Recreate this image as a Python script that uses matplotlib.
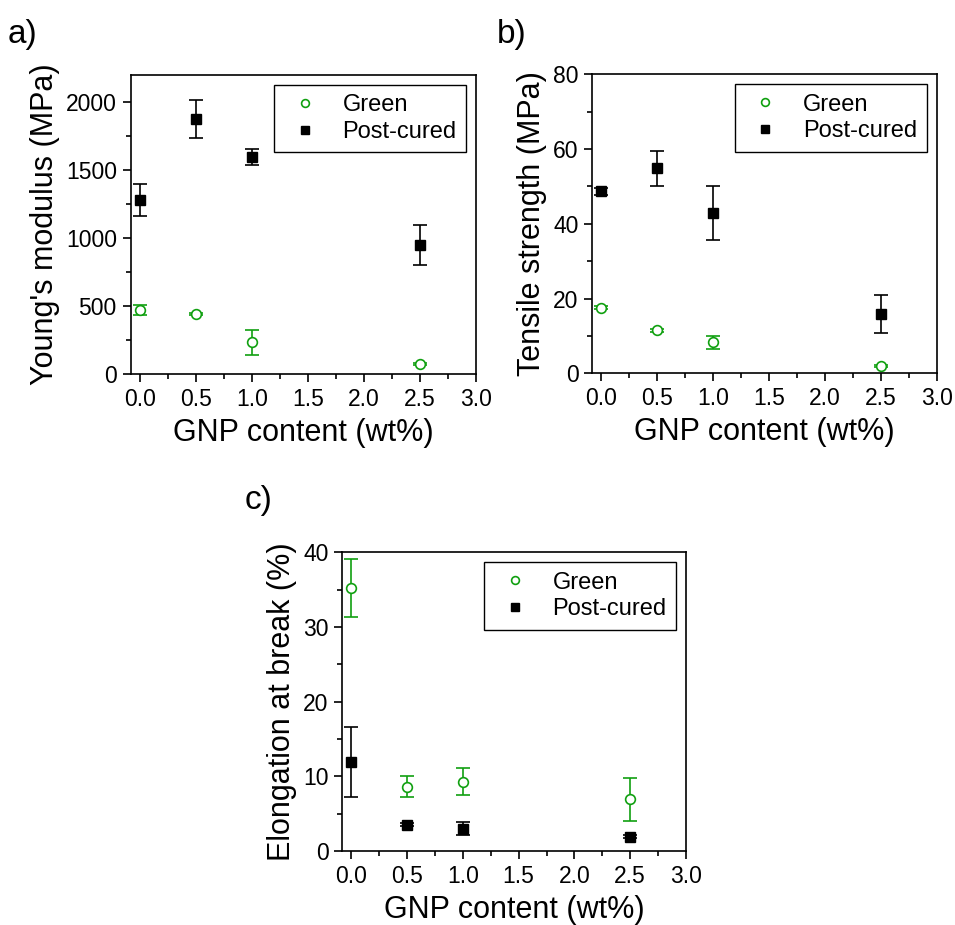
import matplotlib
matplotlib.use("Agg")
import matplotlib.pyplot as plt
from matplotlib.ticker import MultipleLocator

plt.rcParams['font.family'] = ['Liberation Sans', 'DejaVu Sans']

gnp = [0.0, 0.5, 1.0, 2.5]

# a) Young's modulus (MPa)
mod_green = [470, 442, 235, 75]
mod_green_err = [38, 10, 92, 8]
mod_post = [1280, 1875, 1597, 950]
mod_post_err = [118, 140, 60, 150]

# b) Tensile strength (MPa)
ts_green = [17.6, 11.5, 8.3, 2.0]
ts_green_err = [0.5, 0.4, 1.7, 0.3]
ts_post = [48.7, 54.8, 42.9, 15.9]
ts_post_err = [1.0, 4.8, 7.2, 5.1]

# c) Elongation at break (%)
el_green = [35.2, 8.6, 9.3, 6.9]
el_green_err = [3.9, 1.4, 1.8, 2.9]
el_post = [11.9, 3.5, 3.0, 1.9]
el_post_err = [4.7, 0.2, 0.9, 0.2]

xticks = [0.0, 0.5, 1.0, 1.5, 2.0, 2.5, 3.0]
green = '#10a010'

W, H = 955, 925
fig = plt.figure(figsize=(W / 100, H / 100), dpi=100)


def make_ax(left, right, top, bottom):
    return fig.add_axes([left / W, 1 - bottom / H, (right - left) / W, (bottom - top) / H])


def draw(ax, yg, yge, yp, ype, ylim, major, ylabel):
    ax.errorbar(gnp, yg, yerr=yge, fmt='o', mfc='white', mec=green, ecolor=green,
                ms=7, mew=1.2, elinewidth=1.2, capsize=5, capthick=1.2, label='Green')
    ax.errorbar(gnp, yp, yerr=ype, fmt='s', mfc='black', mec='black', ecolor='black',
                ms=7, elinewidth=1.2, capsize=5, capthick=1.2, label='Post-cured')
    ax.set_xlim(-0.08, 3.0)
    ax.set_ylim(*ylim)
    ax.set_xticks(xticks)
    ax.set_xticklabels([f'{v:.1f}' for v in xticks])
    ax.xaxis.set_minor_locator(MultipleLocator(0.25))
    ax.yaxis.set_major_locator(MultipleLocator(major))
    ax.yaxis.set_minor_locator(MultipleLocator(major / 2))
    ax.tick_params(which='both', direction='out', labelsize=16.5, width=1.2)
    ax.tick_params(which='major', length=6, pad=4)
    ax.tick_params(which='minor', length=3.5)
    for s in ax.spines.values():
        s.set_linewidth(1.2)
    ax.set_xlabel('GNP content (wt%)', fontsize=22, labelpad=5)
    ax.set_ylabel(ylabel, fontsize=22, labelpad=4)
    h, l = ax.get_legend_handles_labels()
    h = [hh[0] for hh in h]
    leg = ax.legend(h, l, loc='upper right', fontsize=17, frameon=True, fancybox=False,
                    edgecolor='black', framealpha=1, borderpad=0.4, labelspacing=0.2,
                    handletextpad=0.7, handlelength=1.8, markerscale=0.8,
                    borderaxespad=0, bbox_to_anchor=(0.971, 0.967))
    leg.get_frame().set_linewidth(1.0)


ax1 = make_ax(130.7, 476, 75, 374)
draw(ax1, mod_green, mod_green_err, mod_post, mod_post_err, (0, 2200), 500,
     "Young's modulus (MPa)")
ax2 = make_ax(592.3, 936.7, 74.3, 373.3)
draw(ax2, ts_green, ts_green_err, ts_post, ts_post_err, (0, 80), 20,
     'Tensile strength (MPa)')
ax3 = make_ax(342.3, 686, 552.3, 851)
draw(ax3, el_green, el_green_err, el_post, el_post_err, (0, 40), 10,
     'Elongation at break (%)')

fig.text(8 / W, 1 - 35 / H, 'a)', fontsize=24, va='center', ha='left')
fig.text(497 / W, 1 - 35 / H, 'b)', fontsize=24, va='center', ha='left')
fig.text(245 / W, 1 - 500 / H, 'c)', fontsize=24, va='center', ha='left')

fig.savefig('out.png', dpi=100)
